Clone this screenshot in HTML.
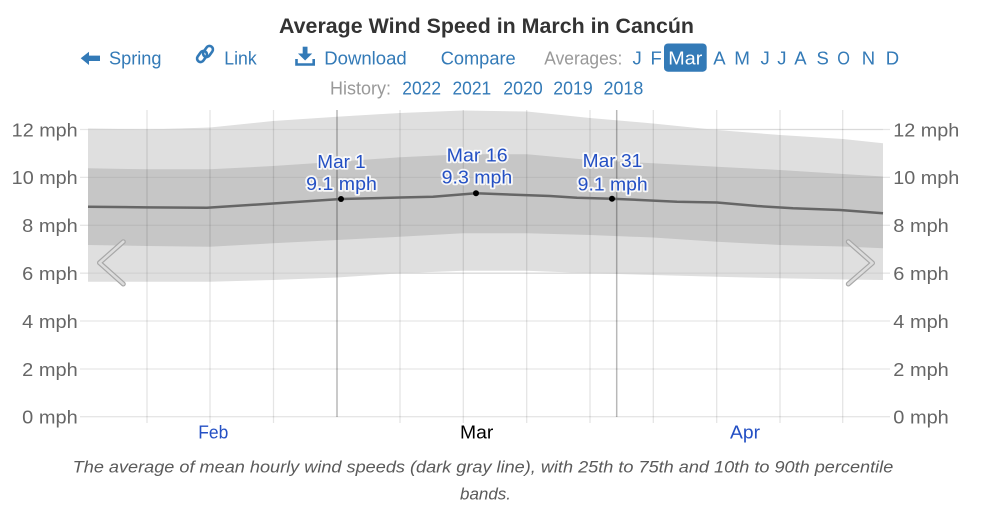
<!DOCTYPE html>
<html><head><meta charset="utf-8"><style>
html,body{margin:0;padding:0;background:#fff;}
svg{display:block;font-family:"Liberation Sans",Arial,sans-serif;}
</style></head><body>
<svg width="982" height="517" viewBox="0 0 982 517" xmlns="http://www.w3.org/2000/svg">
<!-- Title -->
<text x="279" y="33" font-size="21" font-weight="bold" fill="#333" textLength="415" lengthAdjust="spacingAndGlyphs">Average Wind Speed in March in Cancún</text>

<!-- Nav row -->
<g fill="#337ab7">
  <polygon points="80.7,58.3 89,51.7 89,55.6 100,55.6 100,61 89,61 89,65"/>
  <text x="109" y="64.5" font-size="18.5" textLength="52.5" lengthAdjust="spacingAndGlyphs">Spring</text>
  <g fill="none" stroke="#337ab7" stroke-width="2.6">
    <rect x="196" y="53" width="12" height="7" rx="3.5" transform="rotate(-55 202 56.5)"/>
    <rect x="202" y="48" width="12" height="7" rx="3.5" transform="rotate(-55 208 51.5)"/>
  </g>
  <text x="224.3" y="64.5" font-size="18.5" textLength="32.4" lengthAdjust="spacingAndGlyphs">Link</text>
  <rect x="302.7" y="46.7" width="4.8" height="8"/>
  <polygon points="298,53.5 312.2,53.5 305.1,60.5"/>
  <path d="M296.5 59 V64.5 H313.7 V59" fill="none" stroke="#337ab7" stroke-width="2.6"/>
  <text x="324.3" y="64.5" font-size="18.5" textLength="82.4" lengthAdjust="spacingAndGlyphs">Download</text>
  <text x="440.7" y="64.5" font-size="18.5" textLength="75" lengthAdjust="spacingAndGlyphs">Compare</text>
</g>
<text x="544.3" y="64.5" font-size="18.5" fill="#999" textLength="78" lengthAdjust="spacingAndGlyphs">Averages:</text>
<g fill="#337ab7" font-size="18.5">
  <text x="632.5" y="64.5">J</text>
  <text x="650.5" y="64.5">F</text>
  <text x="713.3" y="64.5">A</text>
  <text x="734.3" y="64.5" textLength="15.7" lengthAdjust="spacingAndGlyphs">M</text>
  <text x="760.5" y="64.5">J</text>
  <text x="777.3" y="64.5">J</text>
  <text x="794.3" y="64.5">A</text>
  <text x="816.5" y="64.5">S</text>
  <text x="837.3" y="64.5" textLength="12.7" lengthAdjust="spacingAndGlyphs">O</text>
  <text x="861.7" y="64.5">N</text>
  <text x="885.7" y="64.5">D</text>
</g>
<rect x="664" y="43.5" width="42.7" height="28.2" rx="4" fill="#337ab7"/>
<text x="668.3" y="64.5" font-size="18.5" fill="#fff" textLength="34" lengthAdjust="spacingAndGlyphs">Mar</text>

<!-- History row -->
<text x="330" y="94.3" font-size="18.5" fill="#999" textLength="61" lengthAdjust="spacingAndGlyphs">History:</text>
<g fill="#337ab7" font-size="18.5">
  <text x="402.3" y="94.3" textLength="38.7" lengthAdjust="spacingAndGlyphs">2022</text>
  <text x="452.5" y="94.3" textLength="38.7" lengthAdjust="spacingAndGlyphs">2021</text>
  <text x="503.3" y="94.3" textLength="39.4" lengthAdjust="spacingAndGlyphs">2020</text>
  <text x="553.3" y="94.3" textLength="39.4" lengthAdjust="spacingAndGlyphs">2019</text>
  <text x="603.5" y="94.3" textLength="39.8" lengthAdjust="spacingAndGlyphs">2018</text>
</g>

<!-- Horizontal gridlines -->
<g stroke="#e6e6e6" stroke-width="1.3">
  <line x1="80" y1="129.5" x2="890" y2="129.5"/>
  <line x1="80" y1="177.4" x2="890" y2="177.4"/>
  <line x1="80" y1="225.3" x2="890" y2="225.3"/>
  <line x1="80" y1="273.2" x2="890" y2="273.2"/>
  <line x1="80" y1="321" x2="890" y2="321"/>
  <line x1="80" y1="369" x2="890" y2="369"/>
  <line x1="80" y1="416.7" x2="890" y2="416.7"/>
</g>

<!-- Bands -->
<polygon fill="#dfdfdf" points="88,128.5 147,129.5 210,127.5 273,121 337,116.7 400,113 463,110.5 527,111.5 590,118 653,123.5 717,130 780,135 843,139 883,143.3 883,280 843,279.5 780,278.3 717,276.7 653,275 590,273.3 527,270.7 463,270.7 400,273.3 337,277.5 273,280 210,281.7 147,281.7 88,281.7"/>
<polygon fill="#c6c6c6" points="88,168.3 147,169.3 210,169.3 273,166 337,161.7 400,157.3 463,154.3 527,154.3 590,160 653,163.3 717,166.7 780,170 843,174 883,176.5 883,248.3 843,246.5 780,245 717,241.7 653,237.5 590,235 527,233.3 463,233.3 400,236.7 337,240 273,243.3 210,246.7 147,246 88,245"/>

<!-- Horizontal gridlines over bands (subtle) -->
<g stroke="rgba(0,0,0,0.05)" stroke-width="1.3">
  <line x1="88" y1="129.5" x2="883" y2="129.5"/>
  <line x1="88" y1="177.4" x2="883" y2="177.4"/>
  <line x1="88" y1="225.3" x2="883" y2="225.3"/>
  <line x1="88" y1="273.2" x2="883" y2="273.2"/>
</g>

<!-- Vertical gridlines -->
<g stroke="rgba(0,0,0,0.1)" stroke-width="1.3">
  <line x1="147" y1="110" x2="147" y2="423"/>
  <line x1="210" y1="110" x2="210" y2="423"/>
  <line x1="273.5" y1="110" x2="273.5" y2="423"/>
  <line x1="400" y1="110" x2="400" y2="423"/>
  <line x1="463.3" y1="110" x2="463.3" y2="423"/>
  <line x1="526.7" y1="110" x2="526.7" y2="423"/>
  <line x1="590" y1="110" x2="590" y2="423"/>
  <line x1="653.3" y1="110" x2="653.3" y2="423"/>
  <line x1="716.7" y1="110" x2="716.7" y2="423"/>
  <line x1="780" y1="110" x2="780" y2="423"/>
  <line x1="842.7" y1="110" x2="842.7" y2="423"/>
</g>
<g stroke="rgba(0,0,0,0.28)" stroke-width="1.5">
  <line x1="337" y1="110" x2="337" y2="417"/>
  <line x1="616.7" y1="110" x2="616.7" y2="417"/>
</g>

<!-- Mean line -->
<polyline fill="none" stroke="#666" stroke-width="2.5" stroke-linejoin="round" points="88,206.7 147,207.4 207,207.7 273,203.5 341,199 400,197.5 433,196.7 476,193.3 550,196 577,197.7 612,198.7 677,201.7 717,202.5 757,206 793,208.3 840,210 883,213.3"/>
<g fill="#000">
  <circle cx="341" cy="199" r="3"/>
  <circle cx="476" cy="193.3" r="3"/>
  <circle cx="612" cy="198.7" r="3"/>
</g>

<!-- Annotations -->
<g font-size="18" fill="#2450c4" stroke="rgba(255,255,255,0.85)" stroke-width="3.5" paint-order="stroke" stroke-linejoin="round" text-anchor="middle">
  <text x="341.5" y="168" textLength="48.4" lengthAdjust="spacingAndGlyphs">Mar 1</text>
  <text x="341.5" y="190" textLength="70.7" lengthAdjust="spacingAndGlyphs">9.1 mph</text>
  <text x="477.2" y="161.5" textLength="61" lengthAdjust="spacingAndGlyphs">Mar 16</text>
  <text x="477" y="183.5" textLength="70.6" lengthAdjust="spacingAndGlyphs">9.3 mph</text>
  <text x="612.5" y="167" textLength="59.6" lengthAdjust="spacingAndGlyphs">Mar 31</text>
  <text x="612.7" y="190.3" textLength="70" lengthAdjust="spacingAndGlyphs">9.1 mph</text>
</g>

<!-- Chevrons -->
<g fill="none" stroke-linecap="round" stroke-linejoin="round">
  <polyline points="123.3,241.7 99.5,262.8 123.3,284" stroke="#a8a8a8" stroke-width="5"/>
  <polyline points="123.3,241.7 99.5,262.8 123.3,284" stroke="#dcdcdc" stroke-width="2.6"/>
  <polyline points="848.3,241.7 872.5,263 848.3,284" stroke="#a8a8a8" stroke-width="5"/>
  <polyline points="848.3,241.7 872.5,263 848.3,284" stroke="#dcdcdc" stroke-width="2.6"/>
</g>

<!-- Y axis labels -->
<g font-size="18.5" fill="#666" text-anchor="end">
  <text x="77.7" y="136.3" textLength="66" lengthAdjust="spacingAndGlyphs">12 mph</text>
  <text x="77.7" y="184.2" textLength="66" lengthAdjust="spacingAndGlyphs">10 mph</text>
  <text x="77.7" y="232.1" textLength="55.5" lengthAdjust="spacingAndGlyphs">8 mph</text>
  <text x="77.7" y="280" textLength="55.5" lengthAdjust="spacingAndGlyphs">6 mph</text>
  <text x="77.7" y="327.8" textLength="55.5" lengthAdjust="spacingAndGlyphs">4 mph</text>
  <text x="77.7" y="375.8" textLength="55.5" lengthAdjust="spacingAndGlyphs">2 mph</text>
  <text x="77.7" y="423.5" textLength="55.5" lengthAdjust="spacingAndGlyphs">0 mph</text>
</g>
<g font-size="18.5" fill="#666">
  <text x="893.3" y="136.3" textLength="66" lengthAdjust="spacingAndGlyphs">12 mph</text>
  <text x="893.3" y="184.2" textLength="66" lengthAdjust="spacingAndGlyphs">10 mph</text>
  <text x="893.3" y="232.1" textLength="55.5" lengthAdjust="spacingAndGlyphs">8 mph</text>
  <text x="893.3" y="280" textLength="55.5" lengthAdjust="spacingAndGlyphs">6 mph</text>
  <text x="893.3" y="327.8" textLength="55.5" lengthAdjust="spacingAndGlyphs">4 mph</text>
  <text x="893.3" y="375.8" textLength="55.5" lengthAdjust="spacingAndGlyphs">2 mph</text>
  <text x="893.3" y="423.5" textLength="55.5" lengthAdjust="spacingAndGlyphs">0 mph</text>
</g>

<!-- X axis labels -->
<g font-size="18">
  <text x="198.3" y="438.5" fill="#2450c4" textLength="30" lengthAdjust="spacingAndGlyphs">Feb</text>
  <text x="460" y="438.5" fill="#000" textLength="33.3" lengthAdjust="spacingAndGlyphs">Mar</text>
  <text x="730" y="438.5" fill="#2450c4" textLength="30" lengthAdjust="spacingAndGlyphs">Apr</text>
</g>

<!-- Caption -->
<g font-size="17" font-style="italic" fill="#5a5a5a">
  <text x="72.7" y="472.7" textLength="820.6" lengthAdjust="spacingAndGlyphs">The average of mean hourly wind speeds (dark gray line), with 25th to 75th and 10th to 90th percentile</text>
  <text x="460" y="499.3" textLength="51" lengthAdjust="spacingAndGlyphs">bands.</text>
</g>
</svg>
</body></html>
